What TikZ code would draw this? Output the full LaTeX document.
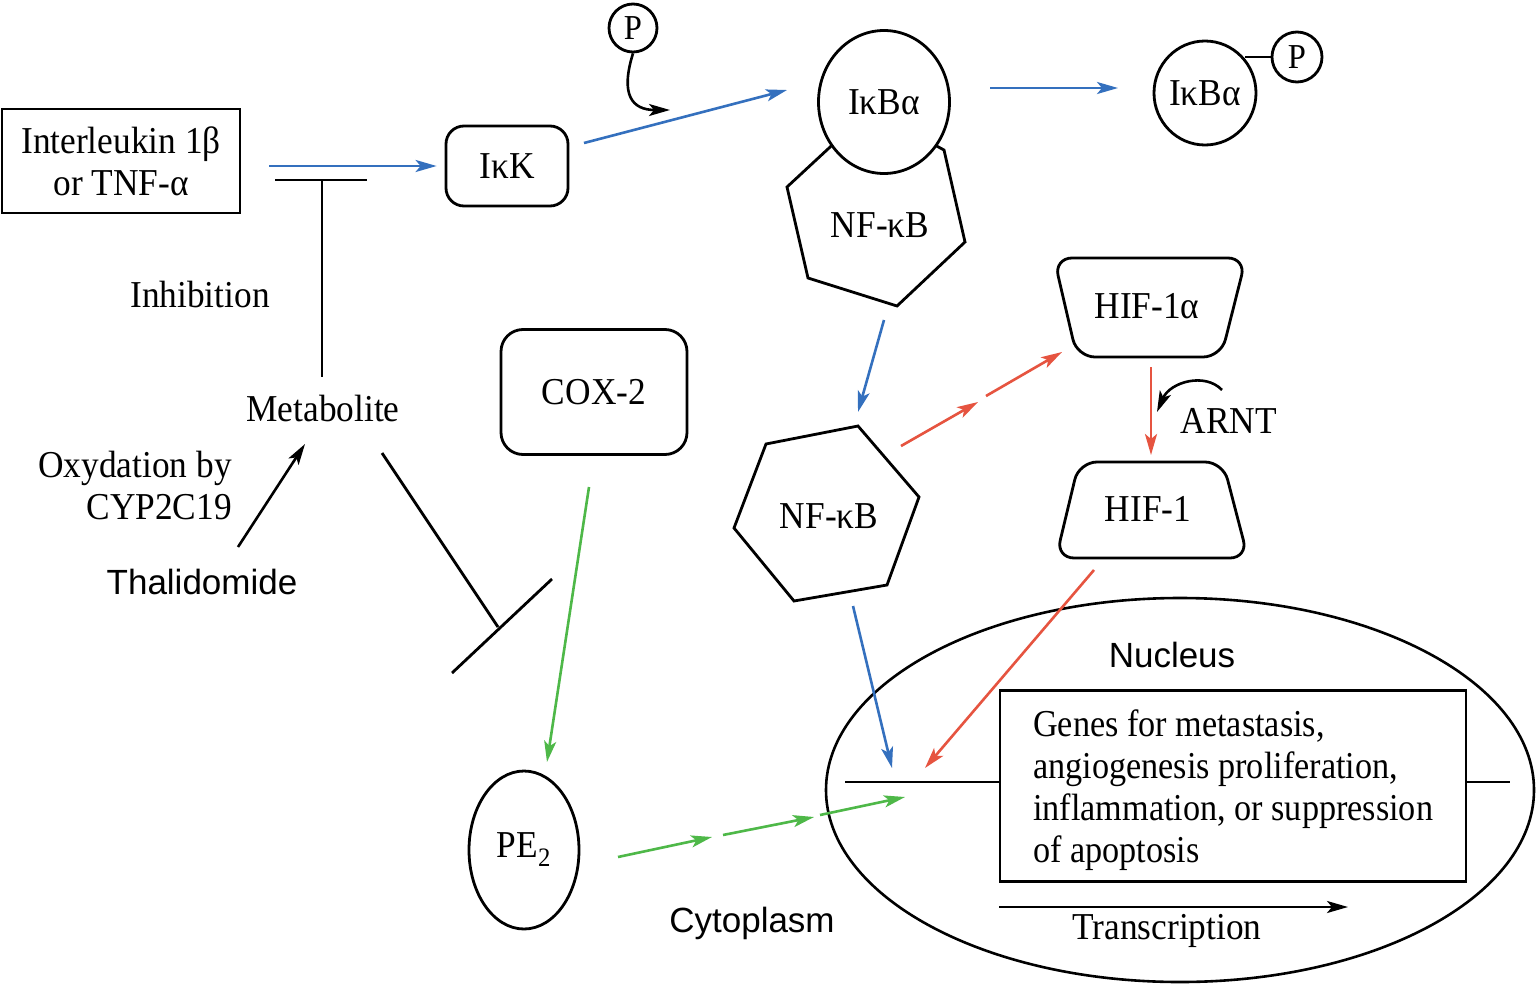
\documentclass[tikz,border=0pt]{standalone}
\usepackage{fontspec}
\setmainfont{Liberation Serif}[FakeStretch=0.93]
\newfontfamily\narrowserif{Liberation Serif}[FakeStretch=0.9]
\setsansfont{Liberation Sans}
\usetikzlibrary{arrows.meta,shapes.geometric}
\definecolor{cblue}{RGB}{52,112,190}
\definecolor{cred}{RGB}{230,84,64}
\definecolor{cgreen}{RGB}{78,184,72}
\begin{document}
\begin{tikzpicture}[x=1pt,y=-1pt,
  serif/.style={font=\fontsize{38}{42}\selectfont},
  sans/.style={font=\sffamily\fontsize{35}{40}\selectfont},
  shp/.style={draw, line width=2.8pt},
  arr/.style={line width=2.6pt,-{Stealth[length=21pt,width=12pt,inset=5pt]}},
  barr/.style={arr, draw=cblue, fill=cblue},
  rarr/.style={arr, draw=cred, fill=cred},
  garr/.style={arr, draw=cgreen, fill=cgreen},
  karr/.style={arr, draw=black},
  inhib/.style={line width=2.8pt, draw=black},
  every node/.style={serif, inner sep=0pt}
]
\useasboundingbox (0,0) rectangle (1537,988);
\fill[white] (0,0) rectangle (1537,988);

% ---- boxes and shapes ----
\node[shp, minimum width=238pt, minimum height=104pt, align=center] (il) at (121,161) {Interleukin 1β\\or TNF-α};
\node[shp, rounded corners=18pt, minimum width=122pt, minimum height=80pt] (ikk) at (507,166) {IκK};
\node[shp, rounded corners=22pt, minimum width=186pt, minimum height=125pt] (cox) at (594,392) {COX-2};
\node[shp, circle, minimum size=48pt, font=\fontsize{35}{40}\selectfont] (p1) at (633,28) {P};

% upper NF-kB (pentagon behind IkBa)
\draw[shp, fill=white] (787,187) -- (808,278) -- (897,306) -- (965,242) -- (944,150) -- (870,110) -- cycle;
\node (nfkb1) at (880,225) {NF-κB};
\node[shp, ellipse, fill=white, minimum width=131pt, minimum height=143pt] (ikba) at (884,102) {IκBα};

% IkBa-P
\node[shp, ellipse, minimum width=102pt, minimum height=104pt] (ikbap) at (1205,93) {IκBα};
\node[shp, circle, minimum size=50pt, font=\fontsize{35}{40}\selectfont] (p2) at (1297,57) {P};
\draw[line width=2.8pt] (p2.west) -- ++(-26,0);

% lower NF-kB hexagon
\draw[shp] (858,426) -- (766,444) -- (734,528) -- (794,601) -- (887,585) -- (919,497) -- cycle;
\node (nfkb2) at (829,516) {NF-κB};

% HIF-1alpha and HIF-1
\draw[shp, rounded corners=18pt] (1054,258) -- (1246,258) -- (1221,357) -- (1077,357) -- cycle;
\node (hif1a) at (1147,306) {HIF-1α};
\draw[shp, rounded corners=18pt] (1079,462) -- (1223,462) -- (1248,558) -- (1056,558) -- cycle;
\node (hif1) at (1148,509) {HIF-1};

% PE2
\node[shp, ellipse, minimum width=110pt, minimum height=158pt] (pe2) at (524,850) {PE\textsubscript{2}};

% Nucleus
\node[draw, line width=2.6pt, ellipse, minimum width=708pt, minimum height=384pt] (nuc) at (1180,790) {};
\node[sans] (nuctxt) at (1172,655) {Nucleus};
\node[shp, minimum width=466pt, minimum height=191pt] (genes) at (1233,786) {};
\node[anchor=west, align=left, font=\narrowserif\fontsize{38}{42}\selectfont] (genestxt) at (1033,790) {Genes for metastasis,\\angiogenesis proliferation,\\inflammation, or suppression\\of apoptosis};
\coordinate (dnaL) at (845,782);
\coordinate (dnaR) at (1510,782);
\draw[line width=2.8pt] (dnaL) -- (dnaL -| genes.west);
\draw[line width=2.8pt] (genes.east |- dnaR) -- (dnaR);

% ---- text labels ----
\node (inhtxt) at (200,294) {Inhibition};
\node (metab) at (323,408) {Metabolite};
\node[anchor=east, align=right] (oxy) at (232,485) {Oxydation by\\CYP2C19};
\node[sans] (thal) at (202,582) {Thalidomide};
\node (arnt) at (1229,421) {ARNT};
\node (transtxt) at (1167,931) {Transcription};
\node[sans] (cyto) at (752,923) {Cytoplasm};

% ---- connectors ----
\draw[barr, shorten <=28pt, shorten >=8pt] (il.east |- ikk.west) -- (ikk.west);
\coordinate (b2s) at (584,143); \coordinate (b2e) at (787,90);
\draw[barr] (b2s) -- (b2e);
\coordinate (b3s) at (990,88); \coordinate (b3e) at (1118,88);
\draw[barr] (b3s) -- (b3e);
\coordinate (b4s) at (884,320); \coordinate (b4e) at (858,412);
\draw[barr] (b4s) -- (b4e);
\coordinate (b5s) at (853,606); \coordinate (b5e) at (892,768);
\draw[barr] (b5s) -- (b5e);

\coordinate (r1s) at (901,446); \coordinate (r1e) at (978,402);
\coordinate (r2s) at (986,396); \coordinate (r2e) at (1062,352);
\draw[rarr] (r1s) -- (r1e);
\draw[rarr] (r2s) -- (r2e);
\coordinate (r3s) at (1151,367); \coordinate (r3e) at (1151,455);
\draw[rarr] (r3s) -- (r3e);
\coordinate (r4s) at (1094,570); \coordinate (r4e) at (925,768);
\draw[rarr] (r4s) -- (r4e);

\coordinate (g1s) at (589,487); \coordinate (g1e) at (547,762);
\draw[garr] (g1s) -- (g1e);
\coordinate (g2s) at (618,857); \coordinate (g2e) at (712,837);
\coordinate (g3s) at (723,835); \coordinate (g3e) at (814,817);
\coordinate (g4s) at (820,815); \coordinate (g4e) at (905,797);
\draw[garr] (g2s) -- (g2e);
\draw[garr] (g3s) -- (g3e);
\draw[garr] (g4s) -- (g4e);

\coordinate (k1s) at (238,547); \coordinate (k1e) at (305,444);
\draw[karr] (k1s) -- (k1e);
\coordinate (k2e) at (670,110);
\draw[karr] (p1.south) .. controls (620,95) and (632,110) .. (k2e);
\coordinate (k3s) at (1222,390); \coordinate (k3e) at (1157,412);
\draw[karr] (k3s) .. controls (1205,372) and (1170,382) .. (k3e);
\coordinate (k4s) at (999,907); \coordinate (k4e) at (1348,907);
\draw[karr] (k4s) -- (k4e);

% inhibition bars
\coordinate (i1a) at (275,180); \coordinate (i1b) at (367,180);
\coordinate (i1t) at (322,180); \coordinate (i1m) at (322,377);
\draw[inhib] (i1a) -- (i1b);
\draw[inhib] (i1t) -- (i1m);
\coordinate (i2s) at (382,453); \coordinate (i2e) at (498,627);
\coordinate (i2a) at (452,673); \coordinate (i2b) at (552,579);
\draw[inhib] (i2s) -- (i2e);
\draw[inhib] (i2a) -- (i2b);
\end{tikzpicture}
\end{document}
